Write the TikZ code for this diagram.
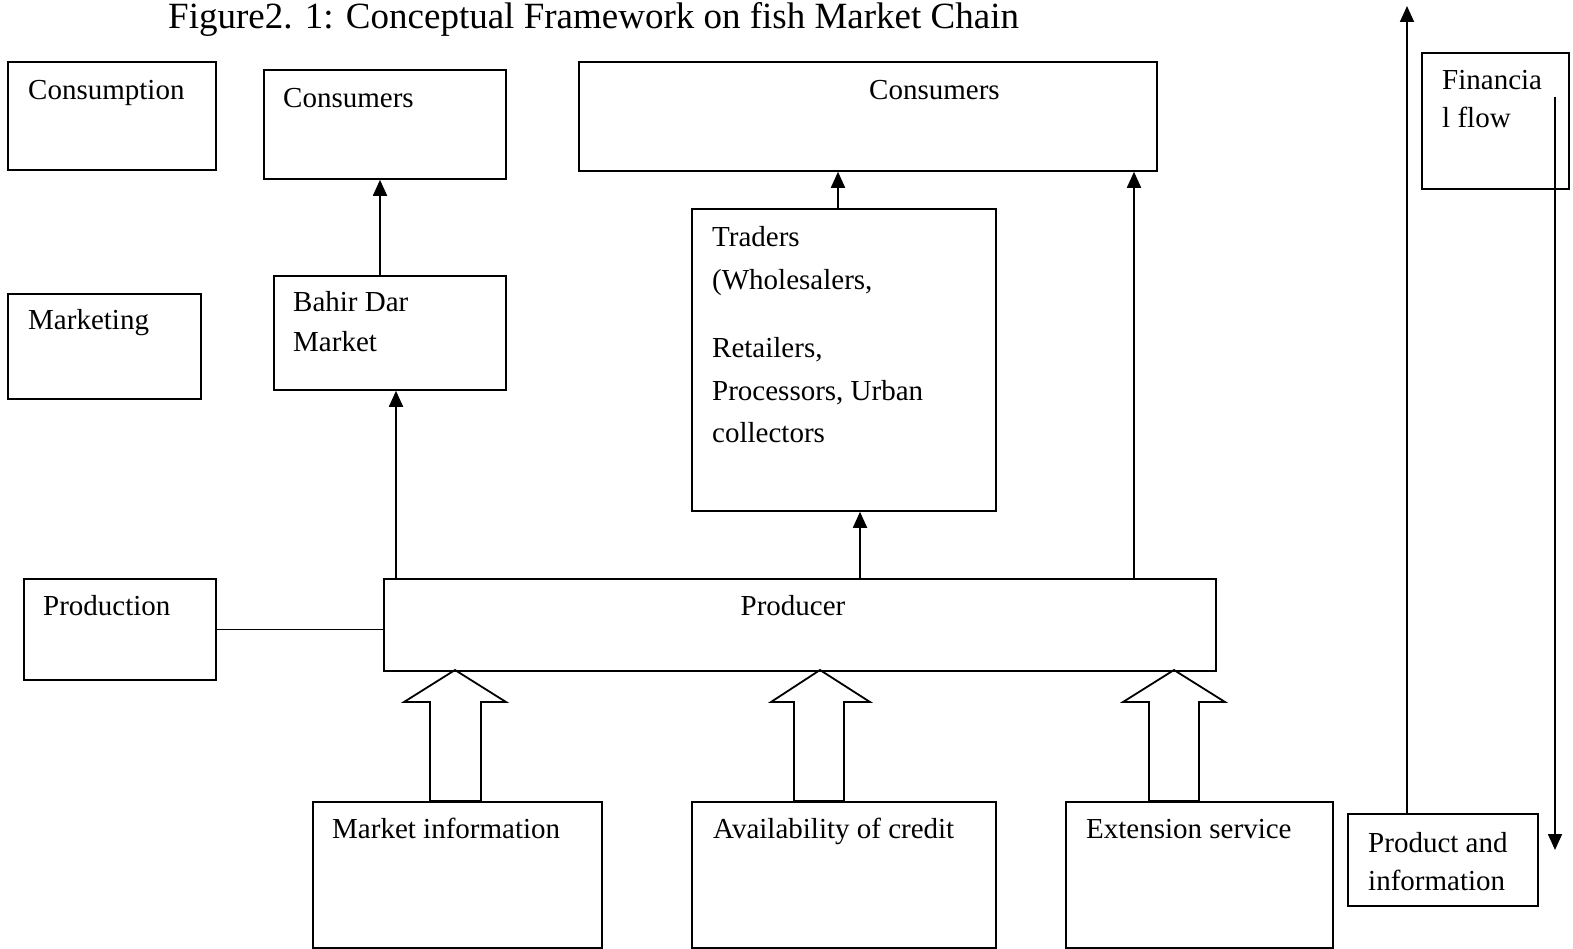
\documentclass[tikz,border=0pt]{standalone}
\usepackage{fontspec}
\setmainfont{Liberation Serif}
\usetikzlibrary{arrows.meta}
\tikzset{
  box/.style={draw, line width=1.8pt, inner sep=0pt, anchor=north west},
  lbl/.style={anchor=base west, inner sep=0pt, font=\fontsize{29}{38}\selectfont},
  arr/.style={line width=1.8pt, -{Triangle[length=16pt,width=14pt]}},
  plain/.style={line width=1.8pt},
  fat/.style={line width=1.8pt, line join=miter}
}
\begin{document}
\begin{tikzpicture}[x=1pt,y=-1pt]
\useasboundingbox (0,0) rectangle (1573,949);
% title
\node[anchor=base west, inner sep=0pt, font=\fontsize{37}{44}\selectfont] (title) at (168,29) {Figure2. 1: Conceptual Framework on fish Market Chain};
% boxes
\node[box, minimum width=208pt, minimum height=108pt] (consumption) at (7,61) {};
\node[box, minimum width=242pt, minimum height=109pt] (consL) at (263,69) {};
\node[box, minimum width=578pt, minimum height=109pt] (consR) at (578,61) {};
\node[box, minimum width=147pt, minimum height=136pt] (fin) at (1421,52) {};
\node[box, minimum width=193pt, minimum height=105pt] (marketing) at (7,293) {};
\node[box, minimum width=232pt, minimum height=114pt] (bahir) at (273,275) {};
\node[box, minimum width=304pt, minimum height=302pt] (traders) at (691,208) {};
\node[box, minimum width=192pt, minimum height=101pt] (production) at (23,578) {};
\node[box, minimum width=832pt, minimum height=92pt] (producer) at (383,578) {};
\node[box, minimum width=289pt, minimum height=146pt] (mktinfo) at (312,801) {};
\node[box, minimum width=304pt, minimum height=146pt] (credit) at (691,801) {};
\node[box, minimum width=267pt, minimum height=146pt] (ext) at (1065,801) {};
\node[box, minimum width=190pt, minimum height=92pt] (prodinfo) at (1347,813) {};
% labels
\node[lbl] (t1) at (28,100) {Consumption};
\node[lbl] (t2) at (283,108) {Consumers};
\node[lbl] (t3) at (869,100) {Consumers};
\node[lbl] (t4) at (1442,90) {Financia};
\node[lbl] (t5) at (1442,128) {l flow};
\node[lbl] (t6) at (28,330) {Marketing};
\node[lbl] (t7) at (293,312) {Bahir Dar};
\node[lbl] (t8) at (293,352) {Market};
\node[lbl] (t9) at (712,247) {Traders};
\node[lbl] (t10) at (712,290) {(Wholesalers,};
\node[lbl] (t11) at (712,357) {Retailers,};
\node[lbl] (t12) at (712,400) {Processors, Urban};
\node[lbl] (t13) at (712,442) {collectors};
\node[lbl, anchor=base] (t14) at (793,615) {Producer};
\node[lbl] (t15) at (43,615) {Production};
\node[lbl] (t16) at (332,838) {Market information};
\node[lbl] (t17) at (713,838) {Availability of credit};
\node[lbl] (t18) at (1086,838) {Extension service};
\node[lbl] (t19) at (1368,852) {Product and};
\node[lbl] (t20) at (1368,890) {information};
% x positions for connectors
\coordinate (xa) at (380,0);
\coordinate (xb) at (396,0);
\coordinate (xc) at (860,0);
\coordinate (xd) at (838,0);
\coordinate (xe) at (1134,0);
\coordinate (xf) at (1407,0);
\coordinate (upTop) at (1407,6);
\coordinate (downTop) at (1555,97);
\coordinate (downEnd) at (1555,850);
% connectors
\draw[arr] (bahir.north -| xa) -- (consL.south -| xa);
\draw[arr] (producer.north -| xb) -- (bahir.south -| xb);
\draw[arr] (producer.north -| xc) -- (traders.south -| xc);
\draw[arr] (traders.north -| xd) -- (consR.south -| xd);
\draw[arr] (producer.north -| xe) -- (consR.south -| xe);
\draw[plain] (production.east) -- (producer.west |- production.east);
\draw[arr] (prodinfo.north -| xf) -- (upTop);
\draw[arr] (downTop) -- (downEnd);
% block arrows
\draw[fat] (455,670) -- (506,702) -- (481,702) -- (481,801) -- (430,801) -- (430,702) -- (404,702) -- cycle;
\draw[fat] (820,670) -- (870,702) -- (844,702) -- (844,801) -- (794,801) -- (794,702) -- (771,702) -- cycle;
\draw[fat] (1174,670) -- (1225,702) -- (1199,702) -- (1199,801) -- (1149,801) -- (1149,702) -- (1123,702) -- cycle;
\end{tikzpicture}
\end{document}
